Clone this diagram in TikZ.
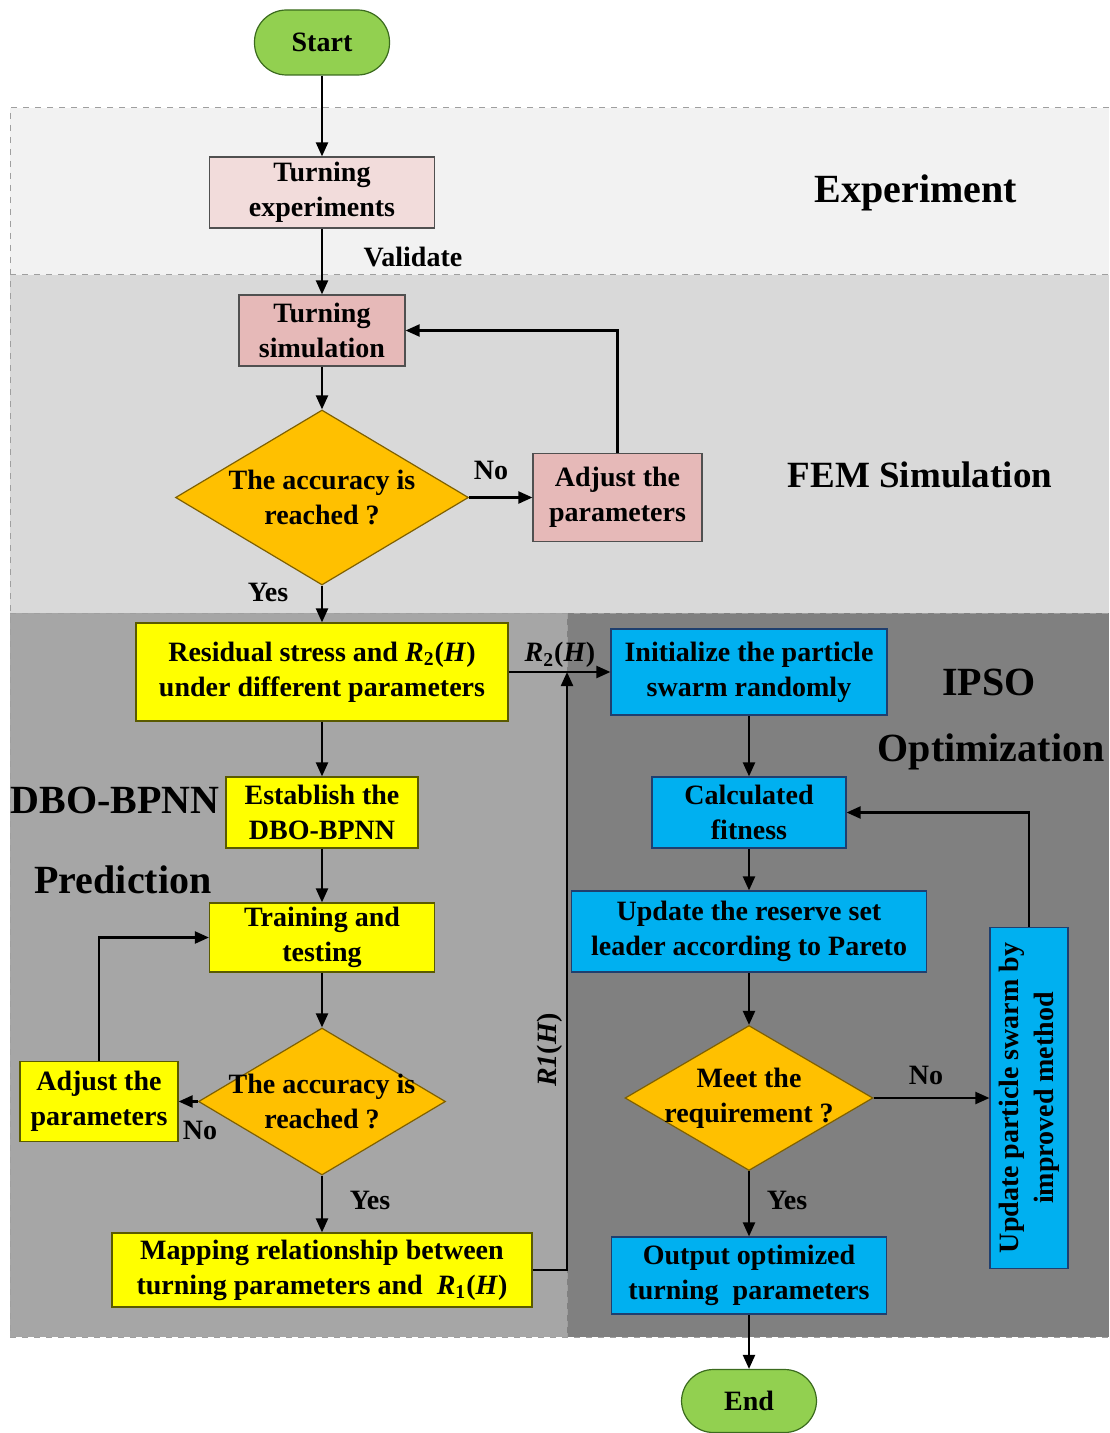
\documentclass[tikz,border=0pt]{standalone}
\usepackage{fontspec}
\setmainfont{Liberation Serif}
\usetikzlibrary{shapes.geometric,arrows.meta}
\definecolor{expbg}{HTML}{F2F2F2}
\definecolor{fembg}{HTML}{D9D9D9}
\definecolor{dbobg}{HTML}{A6A6A6}
\definecolor{psobg}{HTML}{808080}
\definecolor{gfill}{HTML}{92D050}
\definecolor{gdraw}{HTML}{3B6B1E}
\definecolor{pink1}{HTML}{F2DCDB}
\definecolor{pink2}{HTML}{E6B9B8}
\definecolor{orng}{HTML}{FFC000}
\definecolor{orngd}{HTML}{7F6000}
\definecolor{yell}{HTML}{FFFF00}
\definecolor{yelld}{HTML}{5A5A00}
\definecolor{blu}{HTML}{00B0F0}
\definecolor{blud}{HTML}{1F3F6F}
\definecolor{boxd}{HTML}{505050}
\begin{document}
\begin{tikzpicture}[x={(0.5pt,0)},y={(0,-0.5pt)},
  font=\bfseries\fontsize{14}{17.5}\selectfont,
  base/.style={draw, line width=0.6pt, inner sep=0pt, align=center},
  term/.style={base, rectangle, rounded corners=16pt, fill=gfill, draw=gdraw},
  pbox1/.style={base, fill=pink1, draw=boxd},
  pbox2/.style={base, fill=pink2, draw=boxd},
  ybox/.style={base, fill=yell, draw=yelld},
  bbox/.style={base, fill=blu, draw=blud},
  dia/.style={base, diamond, fill=orng, draw=orngd},
  arr/.style={line width=1.1pt, -{Triangle[length=7pt,width=6pt]}},
  lbl/.style={inner sep=0pt},
  head/.style={inner sep=0pt, font=\bfseries\fontsize{20}{24}\selectfont},
  region/.style={draw=gray!75, dashed, line width=0.5pt}
]
\useasboundingbox (0,0) rectangle (1109,1433);
% regions
\fill[expbg] (10,108) rectangle (1109,275);
\fill[fembg] (10,275) rectangle (1109,613);
\fill[dbobg] (10,613) rectangle (567,1337);
\fill[psobg] (567,613) rectangle (1109,1337);
\draw[region] (1109,108) -- (10,108) -- (10,1337) -- (1109,1337);
\draw[region] (10,275) -- (1109,275);
\draw[region] (10,613) -- (1109,613);
\draw[region] (567,613) -- (567,1337);

% headings
\node[head] (hexp) at (916,193) {Experiment};
\node[head, font=\bfseries\fontsize{18.5}{22}\selectfont] (hfem) at (920,475) {FEM Simulation};
\node[head] (hdbo) at (115,800) {DBO-BPNN};
\node[head] (hpred) at (123,880) {Prediction};
\node[head] (hipso) at (989,682) {IPSO};
\node[head] (hopt) at (991,752) {Optimization};

% nodes
\node[term, minimum width=67.5pt, minimum height=32.5pt] (start) at (322,42.5) {Start};
\node[pbox1, minimum width=112.5pt, minimum height=35.5pt] (texp) at (322,192.5) {Turning\\experiments};
\node[pbox2, minimum width=83pt, minimum height=35.5pt] (tsim) at (322,330.5) {Turning\\simulation};
\node[dia, minimum width=146.5pt, minimum height=87.5pt,
  label={[align=center, inner sep=0pt]center:The accuracy is\\reached ?}] (d1) at (322,497.5) {};
\node[pbox2, minimum width=84.5pt, minimum height=44pt] (adj1) at (617.5,497.5) {Adjust the\\parameters};
\node[ybox, minimum width=186pt, minimum height=49pt] (resid) at (322,672) {Residual stress and \textit{R}\textsubscript{2}(\textit{H})\\under different parameters};
\node[ybox, minimum width=96pt, minimum height=35.5pt] (est) at (322,812.5) {Establish the\\DBO-BPNN};
\node[ybox, minimum width=112.5pt, minimum height=34.5pt] (train) at (322,937.5) {Training and\\testing};
\node[dia, minimum width=123.5pt, minimum height=73.5pt,
  label={[align=center, inner sep=0pt]center:The accuracy is\\reached ?}] (d3) at (322,1101.5) {};
\node[ybox, minimum width=79pt, minimum height=40pt] (adj2) at (99,1101.5) {Adjust the\\parameters};
\node[ybox, minimum width=210pt, minimum height=37pt] (map) at (322,1270) {Mapping relationship between\\turning parameters and \ \textit{R}\textsubscript{1}(\textit{H})};
\node[bbox, minimum width=138pt, minimum height=43pt] (init) at (749,672) {Initialize the particle\\swarm randomly};
\node[bbox, minimum width=97pt, minimum height=35.5pt] (calc) at (749,812.5) {Calculated\\fitness};
\node[bbox, minimum width=177.5pt, minimum height=40.5pt] (upd) at (749,931.5) {Update the reserve set\\leader according to Pareto};
\node[dia, minimum width=124pt, minimum height=72.5pt,
  label={[align=center, inner sep=0pt]center:Meet the\\requirement ?}] (d2) at (749,1098) {};
\node[bbox, minimum width=39pt, minimum height=170.5pt,
  label={[align=center, inner sep=0pt, rotate=90]center:Update particle swarm by\\improved method}] (ups) at (1029,1098) {};
\node[bbox, minimum width=137.5pt, minimum height=38.5pt] (out) at (749,1275.5) {Output optimized\\turning \ parameters};
\node[term, minimum width=67.5pt, minimum height=31.5pt] (end) at (749,1401) {End};

\coordinate (j) at (567,672);

% connectors
\draw[arr] (start) -- (texp);
\draw[arr] (texp) -- (tsim);
\draw[arr] (tsim) -- (d1);
\draw[arr] (d1.east) -- (adj1.west);
\draw[arr] (adj1.north) |- (tsim.east);
\draw[arr] (d1.south) -- (resid.north);
\draw[arr] (resid.east) -- (init.west);
\draw[arr] (resid) -- (est);
\draw[arr] (est) -- (train);
\draw[arr] (train) -- (d3);
\draw[arr] (d3.west) -- (adj2.east);
\draw[arr] (adj2.north) |- (train.west);
\draw[arr] (d3.south) -- (map.north);
\draw[arr] (map.east) -| (j);
\draw[arr] (init) -- (calc);
\draw[arr] (calc) -- (upd);
\draw[arr] (upd) -- (d2);
\draw[arr] (d2.east) -- (ups.west);
\draw[arr] (ups.north) |- (calc.east);
\draw[arr] (d2.south) -- (out.north);
\draw[arr] (out) -- (end);

% connector labels
\node[lbl] (lval) at (413,257) {Validate};
\node[lbl] (lno1) at (491,470) {No};
\node[lbl] (lyes1) at (268,592) {Yes};
\node[lbl] (lr2) at (560,655) {\textit{R}\textsubscript{2}(\textit{H})};
\node[lbl, rotate=90] (lr1) at (550,1050) {\textit{R1}(\textit{H})};
\node[lbl] (lno3) at (200,1130) {No};
\node[lbl] (lyes3) at (370,1200) {Yes};
\node[lbl] (lno2) at (926,1075) {No};
\node[lbl] (lyes2) at (787,1200) {Yes};
\end{tikzpicture}
\end{document}
